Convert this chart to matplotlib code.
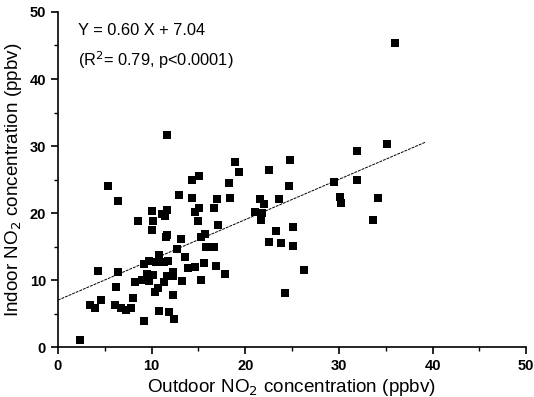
import matplotlib
matplotlib.use("Agg")
import matplotlib.pyplot as plt
import numpy as np
from matplotlib.ticker import MultipleLocator

plt.rcParams['font.family'] = ['Liberation Sans', 'DejaVu Sans']

outdoor = [2.4, 3.45, 4.0, 4.25, 4.6, 5.4, 6.4, 6.4, 6.2, 6.1, 6.7, 7.3, 7.85, 8.0, 8.2,
           8.6, 9.0, 9.2, 9.24, 9.7, 9.75, 9.5, 10.1, 10.2, 10.0, 10.2, 10.35, 10.5, 10.8,
           10.8, 10.7, 11.1, 11.3, 11.3, 11.5, 11.6, 11.4, 11.7, 11.7, 11.6, 11.8, 11.9,
           12.3, 12.3, 12.4, 12.3, 12.7, 12.95, 13.1, 13.3, 13.6, 13.85, 14.3, 14.3, 14.6,
           14.65, 15.05, 15.0, 15.1, 15.3, 15.3, 15.6, 15.7, 15.8, 16.65, 16.7, 16.9, 17.0,
           17.1, 17.8, 18.3, 18.4, 18.9, 19.3, 21.0, 21.6, 21.7, 21.8, 22.0, 22.5, 22.5,
           23.3, 23.6, 23.8, 24.3, 24.65, 24.8, 25.05, 25.1, 26.25, 29.5, 30.1, 30.2, 31.9,
           31.9, 33.6, 34.2, 35.1, 36.0]
indoor = [1.1, 6.35, 5.9, 11.4, 7.0, 24.0, 21.8, 11.3, 9.0, 6.35, 5.9, 5.6, 5.9, 7.3, 9.7,
          18.9, 10.05, 12.4, 3.9, 12.8, 9.9, 10.9, 20.3, 18.8, 17.5, 10.8, 8.3, 12.7, 13.7,
          5.4, 8.9, 19.9, 12.7, 9.7, 16.4, 16.75, 19.6, 20.5, 31.6, 10.7, 12.8, 5.2,
          11.3, 7.8, 4.2, 10.6, 14.6, 22.7, 16.1, 9.95, 13.45, 11.9, 25.0, 22.2, 20.2,
          12.0, 25.6, 18.8, 20.8, 16.4, 10.05, 12.6, 16.85, 15.0, 20.7, 15.0, 12.2, 22.1,
          18.2, 10.9, 24.5, 22.2, 27.7, 26.1, 20.2, 22.1, 19.0, 20.05, 21.3, 26.4, 15.7,
          17.3, 22.1, 15.6, 8.1, 24.1, 28.0, 15.1, 18.0, 11.5, 24.6, 22.4, 21.5, 29.3,
          25.0, 19.0, 22.3, 30.3, 45.3]

slope = 0.60
intercept = 7.04
fit_x = [0, 39.3]

fig = plt.figure(figsize=(5.34, 3.97), dpi=100)
ax = fig.add_axes([0.1084, 0.125, 0.877, 0.845])

ax.scatter(outdoor, indoor, marker='s', s=32, color='black', zorder=3, linewidths=0)
fx = np.array(fit_x)
ax.plot(fx, slope * fx + intercept, color='black', lw=0.7, linestyle=(0, (3, 1)))

ax.set_xlim(0, 50)
ax.set_ylim(0, 50)
ax.xaxis.set_major_locator(MultipleLocator(10))
ax.yaxis.set_major_locator(MultipleLocator(10))
ax.xaxis.set_minor_locator(MultipleLocator(5))
ax.yaxis.set_minor_locator(MultipleLocator(5))
for s in ['top', 'right']:
    ax.spines[s].set_visible(False)
for s in ['left', 'bottom']:
    ax.spines[s].set_linewidth(1.2)
ax.tick_params(which='major', direction='out', length=5, width=1.2, labelsize=10.5)
ax.tick_params(which='minor', direction='out', length=3, width=1.0)
for lab in ax.get_xticklabels() + ax.get_yticklabels():
    lab.set_fontweight('bold')

ax.set_xlabel('Outdoor NO$_2$ concentration (ppbv)', fontsize=13.6, labelpad=3)
ax.set_ylabel('Indoor NO$_2$ concentration (ppbv)', fontsize=13.6, labelpad=4)

ax.text(0.042, 0.944, 'Y = 0.60 X + 7.04', transform=ax.transAxes, fontsize=11.8, va='center')
ax.text(0.042, 0.857, '(R$^2$= 0.79, p<0.0001)', transform=ax.transAxes, fontsize=11.8, va='center')

fig.savefig('out.png', dpi=100, facecolor='white')
